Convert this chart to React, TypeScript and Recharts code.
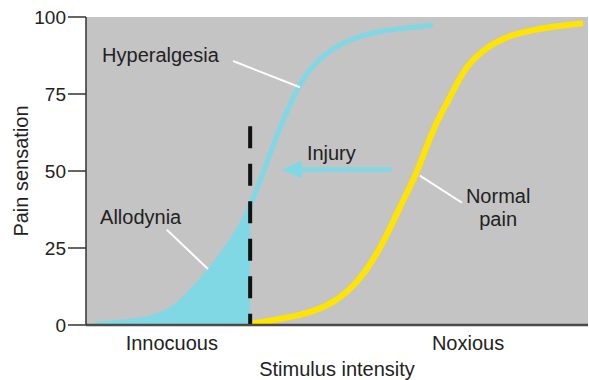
import React from "react";
import {
  ComposedChart,
  Line,
  Area,
  XAxis,
  YAxis,
  CartesianGrid,
  ReferenceLine,
  ReferenceDot,
} from "recharts";

// Hyperalgesia (sensitised) response curve
const cyanX = [1.8, 10.8, 17.3, 22.7, 27.3, 30.7, 32.7, 35.3, 38.6, 42.6, 46.0, 50.6, 57.2, 63.9, 69.1];
const cyanY = [0.3, 1.6, 5.5, 14.0, 23.4, 31.9, 38.8, 49.5, 63.8, 77.9, 85.3, 90.9, 94.8, 96.4, 97.4];

// Normal pain response curve
const yellowX = [33.1, 42.6, 49.2, 54.6, 59.2, 62.5, 65.9, 69.1, 72.5, 75.9, 80.5, 85.9, 92.4, 99.0];
const yellowY = [0.5, 3.3, 7.5, 15.3, 27.0, 38.1, 49.8, 62.9, 74.0, 83.7, 90.6, 94.5, 96.7, 98.0];

// Threshold between innocuous and noxious stimuli
const thresholdX = 32.7;
const thresholdTop = 64.5;

// Axis ticks
const yTicks = [0, 25, 50, 75, 100];
const xCategoryTicks = [17.1, 76.1];
const xCategoryLabels = ["Innocuous", "Noxious"];

// Annotations (data coordinates)
const annotationTexts = ["Hyperalgesia", "Allodynia", "Injury", "Normal", "pain"];
const annotationX = [3.2, 2.8, 44.0, 82.1, 82.1];
const annotationY = [85.3, 32.9, 53.7, 39.5, 32.0];
const annotationAnchor = ["start", "start", "start", "middle", "middle"];

const leaderStartX = [29.3, 16.1, 66.5];
const leaderStartY = [85.7, 30.9, 48.5];
const leaderEndX = [42.6, 24.3, 74.9];
const leaderEndY = [77.2, 18.2, 39.7];

const injuryArrow = { tailX: 60.9, tipX: 39.0, y: 50.5 };

const cyanData = cyanX.map((x, i) => ({ x, y: cyanY[i] }));
const cyanFillData = cyanData.filter((d) => d.x <= thresholdX);
const yellowData = yellowX.map((x, i) => ({ x, y: yellowY[i] }));
const thresholdData = [
  { x: thresholdX, y: thresholdTop },
  { x: thresholdX, y: 0 },
];

const BG = "#c4c4c4";
const CYAN = "#7fd8e4";
const YELLOW = "#ffe400";
const TEXT = "#222";
const FONT = 20;
const CURVE = "natural";

const ArrowShape = (p: any) => {
  const head = 20;
  const half = 9;
  const { x1, y1, x2 } = p;
  return (
    <g>
      <line x1={x1} y1={y1} x2={x2 + head - 2} y2={y1} stroke={CYAN} strokeWidth={4.5} />
      <polygon
        points={`${x2},${y1} ${x2 + head},${y1 - half} ${x2 + head},${y1 + half}`}
        fill={CYAN}
      />
    </g>
  );
};

export default function App() {
  return (
    <div style={{ position: "absolute", left: 0, top: 0, fontFamily: "'Liberation Sans', Arial, sans-serif" }}>
      <ComposedChart
        width={589}
        height={380}
        margin={{ top: 17, right: 1, left: 0, bottom: 0 }}
      >
        <CartesianGrid fill={BG} stroke="none" />
        <XAxis
          type="number"
          dataKey="x"
          domain={[0, 100]}
          ticks={xCategoryTicks}
          interval={0}
          tickFormatter={(v: number) => xCategoryLabels[xCategoryTicks.indexOf(v)] ?? ""}
          tickLine={false}
          tickSize={0}
          tickMargin={11}
          height={55}
          axisLine={{ stroke: "#4a4a4a", strokeWidth: 2.5 }}
          tick={{ fontSize: FONT, fill: TEXT }}
          label={{ value: "Stimulus intensity", position: "insideBottom", offset: 4, fontSize: FONT, fill: TEXT }}
          allowDataOverflow
        />
        <YAxis
          type="number"
          dataKey="y"
          domain={[0, 100]}
          ticks={yTicks}
          interval={0}
          width={86}
          tickSize={18}
          tickMargin={2}
          axisLine={{ stroke: "#333", strokeWidth: 1.5 }}
          tickLine={{ stroke: "#333", strokeWidth: 1.5 }}
          tick={{ fontSize: 19, fill: TEXT }}
          label={{
            value: "Pain sensation",
            angle: -90,
            position: "insideLeft",
            offset: 21,
            fontSize: FONT,
            fill: TEXT,
            style: { textAnchor: "middle" },
          }}
          allowDataOverflow
        />
        <Area
          data={cyanFillData}
          dataKey="y"
          type={CURVE}
          stroke="none"
          fill={CYAN}
          fillOpacity={1}
          baseValue={0}
          isAnimationActive={false}
          dot={false}
          activeDot={false}
        />
        <Line
          data={cyanData}
          dataKey="y"
          type={CURVE}
          stroke={CYAN}
          strokeWidth={5}
          dot={false}
          activeDot={false}
          isAnimationActive={false}
        />
        <Line
          data={yellowData}
          dataKey="y"
          type={CURVE}
          stroke={YELLOW}
          strokeWidth={6}
          dot={false}
          activeDot={false}
          isAnimationActive={false}
        />
        <Line
          data={thresholdData}
          dataKey="y"
          type="linear"
          stroke="#111"
          strokeWidth={4}
          strokeDasharray="22 15.5"
          dot={false}
          activeDot={false}
          isAnimationActive={false}
        />
        {leaderStartX.map((sx, i) => (
          <ReferenceLine
            key={"leader" + i}
            segment={[
              { x: sx, y: leaderStartY[i] },
              { x: leaderEndX[i], y: leaderEndY[i] },
            ]}
            stroke="#ffffff"
            strokeWidth={2}
          />
        ))}
        <ReferenceLine
          segment={[
            { x: injuryArrow.tailX, y: injuryArrow.y },
            { x: injuryArrow.tipX, y: injuryArrow.y },
          ]}
          shape={ArrowShape}
        />
        {annotationTexts.map((t, i) => (
          <ReferenceDot
            key={"ann" + i}
            x={annotationX[i]}
            y={annotationY[i]}
            r={1}
            shape={(p: any) => (
              <text
                x={p.cx}
                y={p.cy}
                fontSize={FONT}
                fill={TEXT}
                textAnchor={annotationAnchor[i] as any}
              >
                {t}
              </text>
            )}
          />
        ))}
      </ComposedChart>
    </div>
  );
}
